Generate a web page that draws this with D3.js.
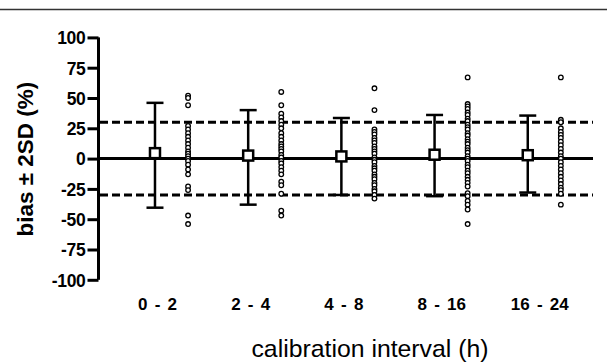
<!DOCTYPE html>
<html>
<head>
<meta charset="utf-8">
<script src="https://cdn.jsdelivr.net/npm/d3@7"></script>
<style>
  body { margin: 0; background: #fff; }
  svg { display: block; font-family: "Liberation Sans", Arial, sans-serif; }
</style>
</head>
<body>
<svg id="chart" width="607" height="363"></svg>
<script>
// calibration interval categories
const categories = ["0 - 2", "2 - 4", "4 - 8", "8 - 16", "16 - 24"];
// bias (square) and +/- 2SD limits per category
const bias = [4.5, 2.5, 1.8, 3.2, 2.8];
const upper = [46, 40, 33.5, 36, 35.5];
const lower = [-40.5, -38, -30, -31, -28];
// limits of agreement (dashed lines)
const limits = [30, -30];
const yTicks = [100, 75, 50, 25, 0, -25, -50, -75, -100];

// individual observations per category
const pts0 = [52, 50, 44, 27, 24, 21, 18, 15, 12, 9, 6, 4, 2, 0, -2, -5, -9, -13, -23, -26, -47, -54];
const pts1 = [55, 44, 37, 34, 31, 28, 25, 21, 18, 15, 12, 10, 8, 6, 3, 1, -2, -4, -7, -10, -13, -19, -22, -29, -43, -47];
const pts2 = [58, 40, 24, 22, 20, 17, 15, 13, 10, 8, 6, 4, 1, -1, -3, -6, -8, -10, -13, -15, -17, -20, -22, -25, -27, -30, -33];
const pts3 = [67, 45, 43, 41, 38, 36, 33, 31, 28, 26, 24, 21, 19, 16, 14, 12, 9, 7, 5, 2, 0, -2, -5, -7, -10, -12, -15, -17.5, -20, -23, -28.5, -31, -35, -38, -42, -54];
const pts4 = [67, 32, 30, 25, 22, 19.5, 17, 14, 11, 8, 5, 2, 0, -3, -6, -9, -12, -15, -18, -21, -24, -26, -29, -38];
const points = [pts0, pts1, pts2, pts3, pts4];

const svg = d3.select("#chart");

const x = d3.scaleLinear().domain([-0.59, 4.7]).range([100, 593]);
const y = d3.scaleLinear().domain([-100, 100]).range([279.8, 37.4]);
const dotShift = 0.355;

// frame line at top
svg.append("line")
  .attr("x1", 0).attr("x2", 607)
  .attr("y1", 9.5).attr("y2", 9.5)
  .attr("stroke", "#333").attr("stroke-width", 1.6);

// y axis
const yAxis = svg.append("g")
  .attr("transform", "translate(98.5,0)")
  .call(d3.axisLeft(y).tickValues(yTicks).tickSize(11).tickPadding(2).tickFormat(d => String(d)));
yAxis.select(".domain").attr("stroke", "#000").attr("stroke-width", 3).attr("d", `M0,${y(100)}V${y(-100)}`);
yAxis.selectAll(".tick line").attr("stroke", "#000").attr("stroke-width", 3);
yAxis.selectAll(".tick text")
  .attr("fill", "#000")
  .style("font-size", "17.5px")
  .style("font-weight", "bold")
  .style("letter-spacing", "-0.3px")
  .attr("dy", "0.36em");

svg.append("text")
  .attr("transform", `translate(33,${y(0) + 0.5}) rotate(-90)`)
  .attr("text-anchor", "middle")
  .style("font-size", "22.5px")
  .style("font-weight", "bold")
  .text("bias \u00B1 2SD (%)");

// dashed limits
svg.selectAll(".limit")
  .data(limits)
  .enter().append("line")
  .attr("class", "limit")
  .attr("x1", x.range()[0]).attr("x2", x.range()[1])
  .attr("y1", d => y(d)).attr("y2", d => y(d))
  .attr("stroke", "#000").attr("stroke-width", 3)
  .attr("stroke-dasharray", "8,4");

// zero line
svg.append("line")
  .attr("x1", x.range()[0]).attr("x2", x.range()[1])
  .attr("y1", y(0)).attr("y2", y(0))
  .attr("stroke", "#000").attr("stroke-width", 3);

// error bars
const bars = svg.append("g").attr("stroke", "#000").attr("stroke-width", 2.5);
categories.forEach((c, i) => {
  bars.append("line")
    .attr("x1", x(i)).attr("x2", x(i))
    .attr("y1", y(upper[i])).attr("y2", y(lower[i]));
  [upper[i], lower[i]].forEach(v => {
    bars.append("line")
      .attr("x1", x(i) - 8.5).attr("x2", x(i) + 8.5)
      .attr("y1", y(v)).attr("y2", y(v));
  });
});

// bias squares
svg.selectAll(".bias")
  .data(bias)
  .enter().append("rect")
  .attr("class", "bias")
  .attr("x", (d, i) => x(i) - 5)
  .attr("y", d => y(d) - 5)
  .attr("width", 10).attr("height", 10)
  .attr("fill", "#fff").attr("stroke", "#000").attr("stroke-width", 2.5);

// observations
points.forEach((pts, i) => {
  svg.append("g").selectAll("circle")
    .data(pts)
    .enter().append("circle")
    .attr("cx", x(i + dotShift))
    .attr("cy", d => y(d))
    .attr("r", 2.3)
    .attr("fill", "#fff").attr("stroke", "#000").attr("stroke-width", 1.3);
});

// category labels
svg.selectAll(".cat")
  .data(categories)
  .enter().append("text")
  .attr("class", "cat")
  .attr("x", (d, i) => x(i) - 17)
  .attr("y", 309.5)
  .style("font-size", "17px")
  .style("font-weight", "bold")
  .style("word-spacing", "2.5px")
  .text(d => d);

svg.append("text")
  .attr("x", 370)
  .attr("y", 357)
  .attr("text-anchor", "middle")
  .style("font-size", "24.8px")
  .text("calibration interval (h)");
</script>
</body>
</html>
